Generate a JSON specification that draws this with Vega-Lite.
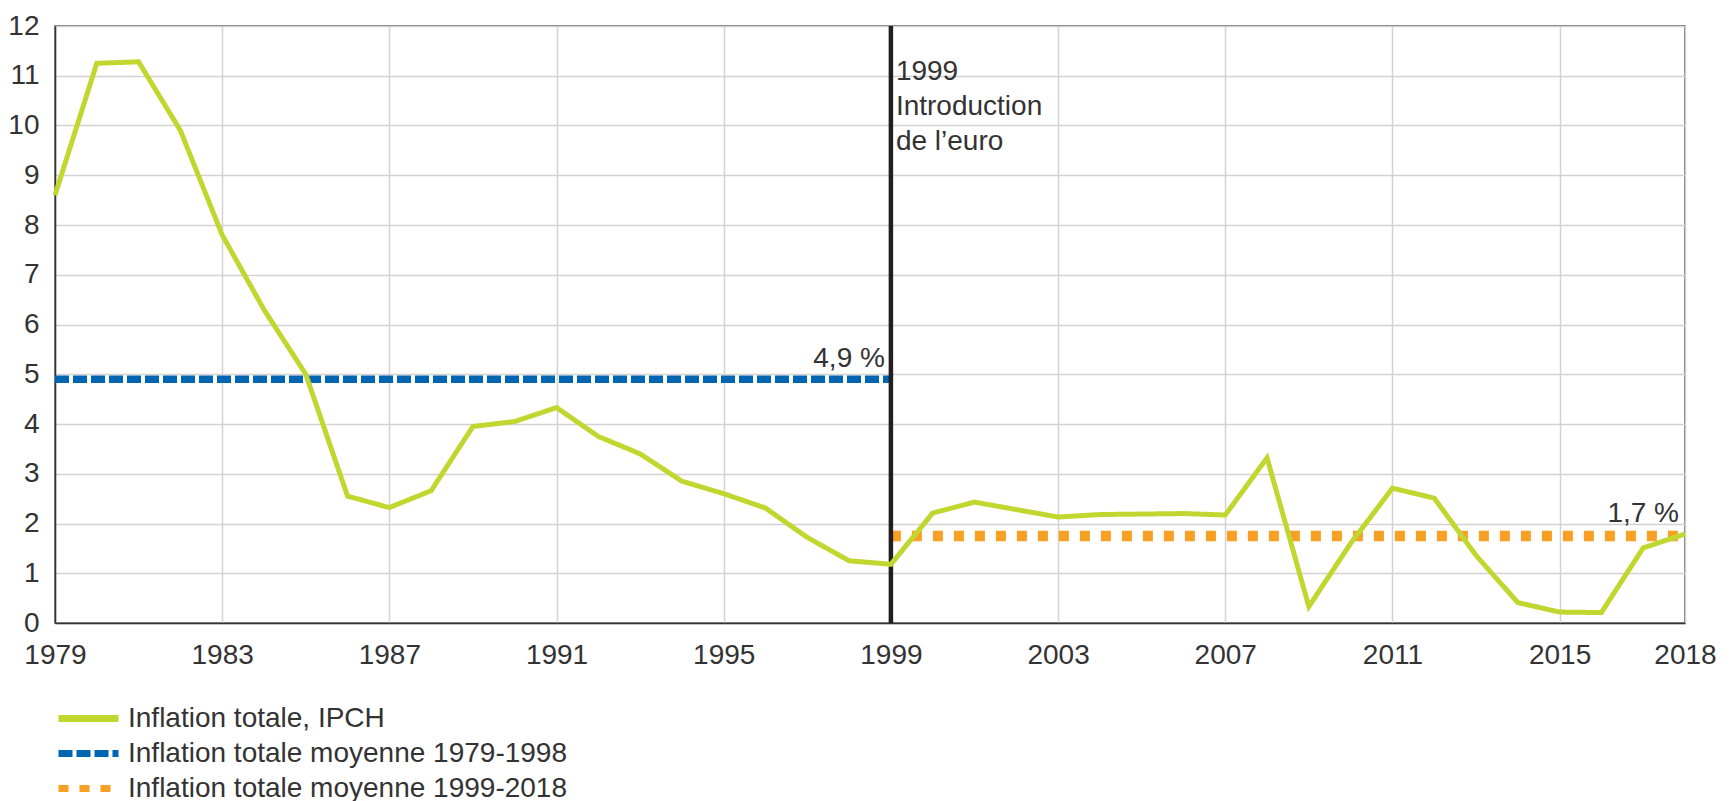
{
  "$schema": "https://vega.github.io/schema/vega-lite/v6.json",
  "autosize": {"type": "none"},
  "width": 1630,
  "height": 597,
  "padding": {"left": 55, "top": 26, "right": 49, "bottom": 178},
  "background": "white",
  "config": {
    "font": "Liberation Sans",
    "view": {"stroke": "#4a4a4a", "strokeWidth": 1.5},
    "axis": {
      "labelFont": "Liberation Sans",
      "labelFontSize": 28,
      "labelColor": "#333333",
      "ticks": false,
      "gridColor": "#d2d2d2",
      "gridWidth": 1.5,
      "gridOpacity": 1,
      "domainColor": "#333333",
      "domainWidth": 1.5,
      "title": null
    },
    "legend": {
      "labelFont": "Liberation Sans",
      "labelFontSize": 28,
      "labelColor": "#333333",
      "labelLimit": 0,
      "padding": 0
    }
  },
  "datasets": {
    "lines": [
      {"year": 1979, "value": 8.6, "series": "Inflation totale, IPCH"},
      {"year": 1980, "value": 11.25, "series": "Inflation totale, IPCH"},
      {"year": 1981, "value": 11.28, "series": "Inflation totale, IPCH"},
      {"year": 1982, "value": 9.9, "series": "Inflation totale, IPCH"},
      {"year": 1983, "value": 7.8, "series": "Inflation totale, IPCH"},
      {"year": 1984, "value": 6.3, "series": "Inflation totale, IPCH"},
      {"year": 1985, "value": 5.0, "series": "Inflation totale, IPCH"},
      {"year": 1986, "value": 2.55, "series": "Inflation totale, IPCH"},
      {"year": 1987, "value": 2.32, "series": "Inflation totale, IPCH"},
      {"year": 1988, "value": 2.66, "series": "Inflation totale, IPCH"},
      {"year": 1989, "value": 3.95, "series": "Inflation totale, IPCH"},
      {"year": 1990, "value": 4.05, "series": "Inflation totale, IPCH"},
      {"year": 1991, "value": 4.33, "series": "Inflation totale, IPCH"},
      {"year": 1992, "value": 3.75, "series": "Inflation totale, IPCH"},
      {"year": 1993, "value": 3.4, "series": "Inflation totale, IPCH"},
      {"year": 1994, "value": 2.85, "series": "Inflation totale, IPCH"},
      {"year": 1995, "value": 2.6, "series": "Inflation totale, IPCH"},
      {"year": 1996, "value": 2.31, "series": "Inflation totale, IPCH"},
      {"year": 1997, "value": 1.72, "series": "Inflation totale, IPCH"},
      {"year": 1998, "value": 1.25, "series": "Inflation totale, IPCH"},
      {"year": 1999, "value": 1.18, "series": "Inflation totale, IPCH"},
      {"year": 2000, "value": 2.21, "series": "Inflation totale, IPCH"},
      {"year": 2001, "value": 2.43, "series": "Inflation totale, IPCH"},
      {"year": 2002, "value": 2.28, "series": "Inflation totale, IPCH"},
      {"year": 2003, "value": 2.13, "series": "Inflation totale, IPCH"},
      {"year": 2004, "value": 2.18, "series": "Inflation totale, IPCH"},
      {"year": 2005, "value": 2.19, "series": "Inflation totale, IPCH"},
      {"year": 2006, "value": 2.2, "series": "Inflation totale, IPCH"},
      {"year": 2007, "value": 2.17, "series": "Inflation totale, IPCH"},
      {"year": 2008, "value": 3.32, "series": "Inflation totale, IPCH"},
      {"year": 2009, "value": 0.33, "series": "Inflation totale, IPCH"},
      {"year": 2010, "value": 1.6, "series": "Inflation totale, IPCH"},
      {"year": 2011, "value": 2.71, "series": "Inflation totale, IPCH"},
      {"year": 2012, "value": 2.51, "series": "Inflation totale, IPCH"},
      {"year": 2013, "value": 1.36, "series": "Inflation totale, IPCH"},
      {"year": 2014, "value": 0.41, "series": "Inflation totale, IPCH"},
      {"year": 2015, "value": 0.22, "series": "Inflation totale, IPCH"},
      {"year": 2016, "value": 0.21, "series": "Inflation totale, IPCH"},
      {"year": 2017, "value": 1.51, "series": "Inflation totale, IPCH"},
      {"year": 2018, "value": 1.79, "series": "Inflation totale, IPCH"},
      {"year": 1979, "value": 4.9, "series": "Inflation totale moyenne 1979-1998"},
      {"year": 1999, "value": 4.9, "series": "Inflation totale moyenne 1979-1998"},
      {"year": 1999, "value": 1.75, "series": "Inflation totale moyenne 1999-2018"},
      {"year": 2018, "value": 1.75, "series": "Inflation totale moyenne 1999-2018"}
    ],
    "events": [{"year": 1999}],
    "notes": [
      {"year": 1999, "value": 11.35, "label": "1999\nIntroduction\nde l’euro", "kind": "euro"},
      {"year": 1999, "value": 5.3, "label": "4,9 %", "kind": "avg"},
      {"year": 2018, "value": 2.2, "label": "1,7 %", "kind": "avg"}
    ]
  },
  "encoding": {
    "x": {
      "field": "year",
      "type": "quantitative",
      "scale": {"domain": [1979, 2018], "nice": false, "zero": false},
      "axis": {
        "values": [1979, 1983, 1987, 1991, 1995, 1999, 2003, 2007, 2011, 2015, 2018],
        "format": "d",
        "labelPadding": 18,
        "labelFlush": false
      }
    },
    "y": {
      "field": "value",
      "type": "quantitative",
      "scale": {"domain": [0, 12], "nice": false},
      "axis": {
        "values": [0, 1, 2, 3, 4, 5, 6, 7, 8, 9, 10, 11, 12],
        "labelPadding": 16
      }
    }
  },
  "layer": [
    {
      "data": {"name": "lines"},
      "transform": [{"filter": "datum.series === 'Inflation totale moyenne 1979-1998'"}],
      "mark": {"type": "line", "strokeWidth": 7.5, "strokeCap": "butt"},
      "encoding": {
        "color": {
          "field": "series",
          "type": "nominal",
          "scale": {
            "domain": ["Inflation totale, IPCH", "Inflation totale moyenne 1979-1998", "Inflation totale moyenne 1999-2018"],
            "range": ["#c2d630", "#0066b2", "#f7a024"]
          },
          "legend": {
            "title": null,
            "orient": "none",
            "legendX": 0,
            "legendY": 675,
            "symbolType": "stroke",
            "symbolSize": 3600,
            "symbolStrokeWidth": 7,
            "clipHeight": 35,
            "rowPadding": 0,
            "labelOffset": 6
          }
        },
        "strokeDash": {
          "field": "series",
          "type": "nominal",
          "scale": {
            "domain": ["Inflation totale, IPCH", "Inflation totale moyenne 1979-1998", "Inflation totale moyenne 1999-2018"],
            "range": [[1, 0], [14, 4], [10, 11]]
          },
          "legend": {
            "title": null,
            "orient": "none",
            "legendX": 0,
            "legendY": 675,
            "symbolType": "stroke",
            "symbolSize": 3600,
            "symbolStrokeWidth": 7,
            "clipHeight": 35,
            "rowPadding": 0,
            "labelOffset": 6
          }
        }
      }
    },
    {
      "data": {"name": "lines"},
      "transform": [{"filter": "datum.series === 'Inflation totale moyenne 1999-2018'"}],
      "mark": {"type": "line", "strokeWidth": 10.5, "strokeCap": "butt"},
      "encoding": {
        "color": {"field": "series", "type": "nominal"},
        "strokeDash": {"field": "series", "type": "nominal"}
      }
    },
    {
      "data": {"name": "events"},
      "mark": {"type": "rule", "color": "#231f20", "strokeWidth": 4.5},
      "encoding": {"y": null}
    },
    {
      "data": {"name": "lines"},
      "transform": [{"filter": "datum.series === 'Inflation totale, IPCH'"}],
      "mark": {"type": "line", "strokeWidth": 5, "strokeJoin": "miter"},
      "encoding": {
        "color": {"field": "series", "type": "nominal"},
        "strokeDash": {"field": "series", "type": "nominal"}
      }
    },
    {
      "data": {"name": "notes"},
      "transform": [{"filter": "datum.kind === 'euro'"}],
      "mark": {"type": "text", "align": "left", "baseline": "top", "dx": 5, "fontSize": 28, "lineHeight": 35, "lineBreak": "\n", "color": "#333333"},
      "encoding": {"text": {"field": "label"}}
    },
    {
      "data": {"name": "notes"},
      "transform": [{"filter": "datum.kind === 'avg'"}],
      "mark": {"type": "text", "align": "right", "baseline": "middle", "dx": -6, "fontSize": 28, "color": "#333333"},
      "encoding": {"text": {"field": "label"}}
    }
  ]
}
